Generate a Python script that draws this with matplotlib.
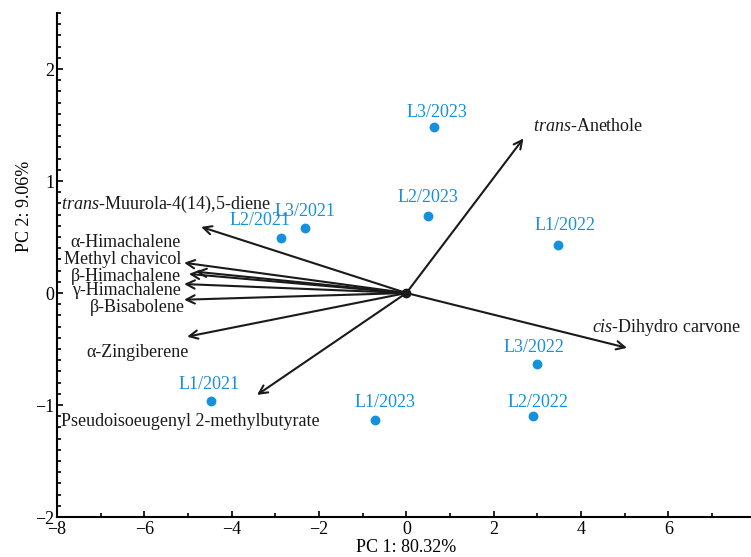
import matplotlib.pyplot as plt
import matplotlib.ticker as mticker

plt.rcParams['font.family'] = ['Liberation Serif', 'DejaVu Serif']
plt.rcParams['mathtext.fontset'] = 'custom'
plt.rcParams['mathtext.rm'] = 'Liberation Serif'
plt.rcParams['mathtext.it'] = 'Liberation Serif:italic'

# sample scores
samples = ['L3/2023', 'L2/2023', 'L1/2022', 'L2/2021', 'L3/2021',
           'L3/2022', 'L2/2022', 'L1/2023', 'L1/2021']
pc1 = [0.64, 0.50, 3.46, -2.87, -2.32, 3.00, 2.89, -0.73, -4.47]
pc2 = [1.48, 0.69, 0.43, 0.49, 0.58, -0.63, -1.10, -1.13, -0.96]

# loadings (arrow tips)
variables = ['$\\mathit{trans}$-Anethole', '$\\mathit{cis}$-Dihydro carvone',
             '$\\mathit{trans}$-Muurola-4(14),5-diene', 'α-Himachalene',
             'Methyl chavicol', 'β-Himachalene', 'γ-Himachalene',
             'β-Bisabolene', 'α-Zingiberene',
             'Pseudoisoeugenyl 2-methylbutyrate']
load1 = [2.68, 5.05, -4.70, -4.82, -5.09, -4.98, -5.09, -5.09, -5.02, -3.42]
load2 = [1.38, -0.49, 0.59, 0.19, 0.27, 0.17, 0.08, -0.06, -0.39, -0.91]

# label placement
sample_off = [(3, 15), (0, 18), (7, 19), (-21, 18), (0, 17),
              (-3, 16), (5, 14), (10, 17), (-2, 16)]
var_pos = [(2.89, 1.49, 'left'), (4.24, -0.31, 'left'), (-7.91, 0.79, 'left'),
           (-5.16, 0.45, 'right'), (-5.16, 0.30, 'right'),
           (-5.16, 0.15, 'right'), (-5.16, 0.02, 'right'),
           (-5.07, -0.125, 'right'), (-4.98, -0.53, 'right'),
           (-7.91, -1.15, 'left')]

blue = '#1590dc'
fs = 13

fig = plt.figure(figsize=(7.51, 5.57), dpi=100)
ax = fig.add_axes([57 / 751, 1 - 517 / 557, 1 - 57 / 751, (517 - 13) / 557])

for x, y in zip(load1, load2):
    ax.annotate('', xy=(x, y), xytext=(0, 0),
                arrowprops=dict(arrowstyle='->', color='#1a1a1a', lw=1.5,
                                mutation_scale=15, shrinkA=0, shrinkB=0))
ax.plot(0, 0, 'o', color='#1a1a1a', ms=6, zorder=5)

for name, (tx, ty, ha) in zip(variables, var_pos):
    ax.text(tx, ty, name, ha=ha, va='center', fontsize=fs, color='#1a1a1a')

ax.scatter(pc1, pc2, s=50, color=blue, zorder=4, linewidths=0)
for name, x, y, (dx, dy) in zip(samples, pc1, pc2, sample_off):
    ax.annotate(name, xy=(x, y), xytext=(dx, dy), textcoords='offset pixels',
                ha='center', va='center', fontsize=fs, color=blue)

ax.set_xlim(-8, 7.89)
ax.set_ylim(-2, 2.5)
ax.xaxis.set_major_locator(mticker.MultipleLocator(2))
ax.xaxis.set_minor_locator(mticker.MultipleLocator(1))
ax.yaxis.set_major_locator(mticker.MultipleLocator(1))
ax.yaxis.set_minor_locator(mticker.MultipleLocator(0.1))
ax.tick_params(which='both', direction='in', labelsize=fs, width=1.2)
ax.tick_params(which='major', length=4)
ax.tick_params(which='minor', length=3)
ax.tick_params(axis='y', pad=2)
ax.tick_params(axis='x', pad=3)
for s in ['top', 'right']:
    ax.spines[s].set_visible(False)
for s in ['left', 'bottom']:
    ax.spines[s].set_linewidth(1.5)

ax.set_xlabel('PC 1: 80.32%', fontsize=fs)
ax.set_ylabel('PC 2: 9.06%', fontsize=fs)
ax.xaxis.set_label_coords(0.503, -0.043)
ax.yaxis.set_label_coords(-0.034, 0.617)

fig.savefig('out.png', dpi=100)
